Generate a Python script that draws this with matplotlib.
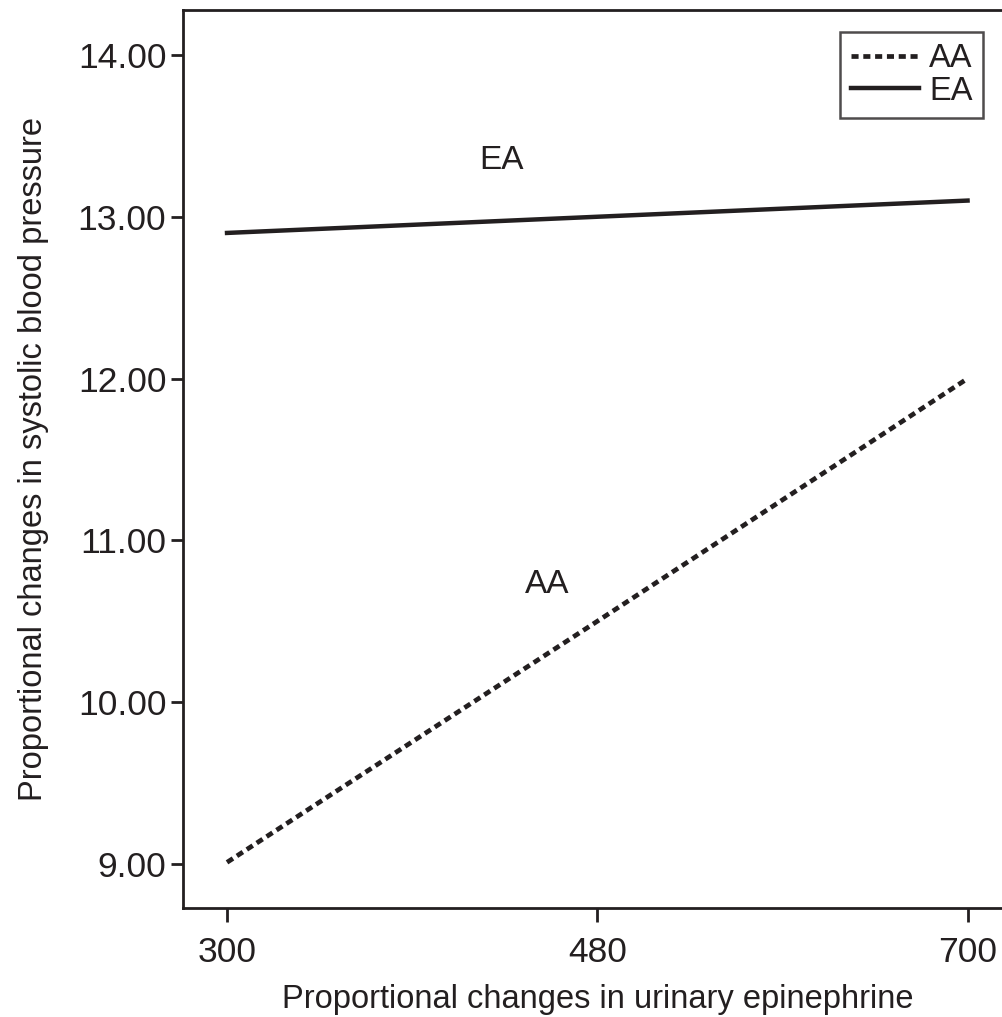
import matplotlib
matplotlib.use("Agg")
import matplotlib.pyplot as plt

plt.rcParams['font.family'] = ['Liberation Sans', 'DejaVu Sans']

# Dados
categorias = ["300", "480", "700"]
aa = [9.01, 10.5, 12.00]
ea = [12.90, 13.00, 13.10]
yticks = [9.0, 10.0, 11.0, 12.0, 13.0, 14.0]

cor = "#231f20"
fig = plt.figure(figsize=(10.02, 10.17), dpi=100)
ax = fig.add_axes([0.1826, 0.1072, 0.827, 0.8830])

x = list(range(len(categorias)))
ax.plot(x, aa, color=cor, lw=3.4, dashes=(1.5, 1.0), label="AA")
ax.plot(x, ea, color=cor, lw=3.2, label="EA")

ax.set_xlim(-0.119, 2.119)
ax.set_ylim(8.728, 14.278)
ax.set_xticks(x)
ax.set_xticklabels(categorias)
ax.set_yticks(yticks)
ax.set_yticklabels([f"{v:.2f}" for v in yticks])
ax.tick_params(axis="both", labelsize=25.5, colors=cor, width=2)
ax.tick_params(axis="y", length=9, pad=3)
ax.tick_params(axis="x", length=10, pad=10)
for s in ax.spines.values():
    s.set_linewidth(2)
    s.set_color(cor)

ax.set_xlabel("Proportional changes in urinary epinephrine", fontsize=23.5, color=cor, labelpad=11)
ax.set_ylabel("Proportional changes in systolic blood pressure", fontsize=23.5, color=cor, labelpad=21)

ax.text(0.74, 13.345, "EA", fontsize=24, color=cor, ha="center", va="center")
ax.text(0.866, 10.73, "AA", fontsize=24, color=cor, ha="center", va="center")

leg = ax.legend(loc="upper right", bbox_to_anchor=(0.966, 0.975), fontsize=23.5, frameon=True,
                fancybox=False, handlelength=2.1, handletextpad=0.3, borderpad=0.33,
                labelspacing=0.05, borderaxespad=0)
leg.get_frame().set_edgecolor(cor)
leg.get_frame().set_linewidth(1.8)
for t in leg.get_texts():
    t.set_color(cor)

fig.savefig("out.png", dpi=100)
